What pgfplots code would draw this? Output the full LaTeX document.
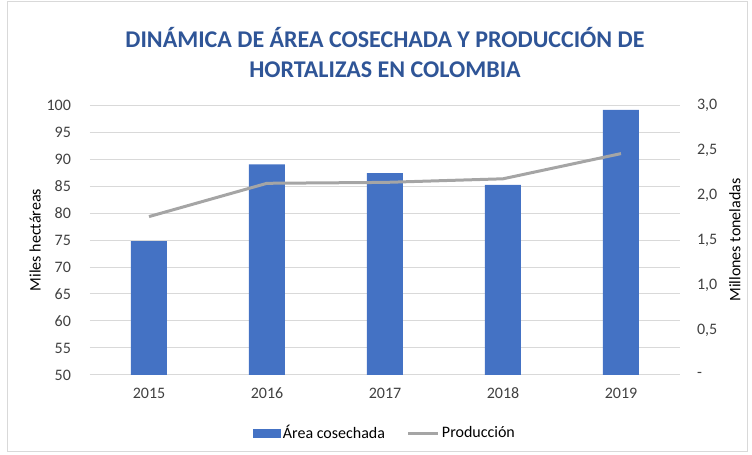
\documentclass[border=0pt]{standalone}
\usepackage{pgfplots}
\pgfplotsset{compat=1.18}
\usepackage{fontspec}
\setmainfont{Carlito}
\definecolor{barblue}{HTML}{4472C4}
\definecolor{linegray}{HTML}{A5A5A5}
\definecolor{gridgray}{HTML}{D9D9D9}
\definecolor{titleblue}{HTML}{2F5597}
\definecolor{txt}{HTML}{404040}

\pgfplotsset{
  common/.style={
    width=295pt, height=135pt, scale only axis,
    at={(0,0)}, anchor=south west,
    xmin=-0.5, xmax=4.5,
    axis line style={draw=none},
    tick style={draw=none},
    ticklabel style={font=\fontsize{8}{9}\selectfont, text=txt},
    label style={font=\fontsize{8}{9}\selectfont, text=black},
    /pgf/number format/assume math mode=true,
  }
}

\begin{document}
\begin{tikzpicture}
\useasboundingbox (-45pt,-40pt) rectangle (331pt,187.5pt);
\draw[gridgray, line width=0.5pt] (-41pt,-38.5pt) rectangle (329pt,186.5pt);

% area (left axis)
\begin{axis}[common,
  ymin=50, ymax=100, ytick={50,55,...,100},
  ymajorgrids, grid style={gridgray, line width=0.5pt},
  xtick={0,1,2,3,4},
  xticklabels={2015,2016,2017,2018,2019},
  xticklabel style={yshift=-3pt},
  yticklabel style={xshift=-6pt},
  ylabel={Miles hectáreas},
  ylabel style={at={(axis description cs:-0.093,0.5)}, anchor=center},
]
\addplot[ybar, bar width=18pt, fill=barblue, draw=none] coordinates {
  (0,74.8)
  (1,89.0)
  (2,87.4)
  (3,85.2)
  (4,99.1)
};
\end{axis}

% production (right axis)
\begin{axis}[common,
  axis y line*=right, axis x line=none,
  ymin=0, ymax=3, ytick={0,0.5,...,3},
  yticklabels={-,{0,5},{1,0},{1,5},{2,0},{2,5},{3,0}},
  yticklabel style={xshift=5pt},
  ylabel={Millones toneladas},
  ylabel style={at={(axis description cs:1.093,0.5)}, anchor=center},
  legend columns=2,
  legend style={draw=none, fill=none, at={(0.5,-0.215)}, anchor=center,
    font=\fontsize{8}{9}\selectfont,
    /tikz/every even column/.append style={column sep=10pt},
    nodes={inner sep=1pt}},
]
\addlegendimage{legend image code/.code={\fill[barblue] (0pt,-2pt) rectangle (13.5pt,2pt);}}
\addlegendentry{Área cosechada}
\addplot[linegray, line width=1.5pt, mark=none,
  legend image code/.code={\draw[linegray,line width=1.5pt] (0pt,0pt) -- (15pt,0pt);}]
  coordinates {
  (0,1.76)
  (1,2.13)
  (2,2.14)
  (3,2.18)
  (4,2.46)
};
\addlegendentry{Producción}
\end{axis}

\node[font=\bfseries\fontsize{12}{15}\selectfont, text=titleblue, align=center]
  at (147.5pt,161pt) {DINÁMICA DE ÁREA COSECHADA Y PRODUCCIÓN DE\\HORTALIZAS EN COLOMBIA};
\end{tikzpicture}
\end{document}
